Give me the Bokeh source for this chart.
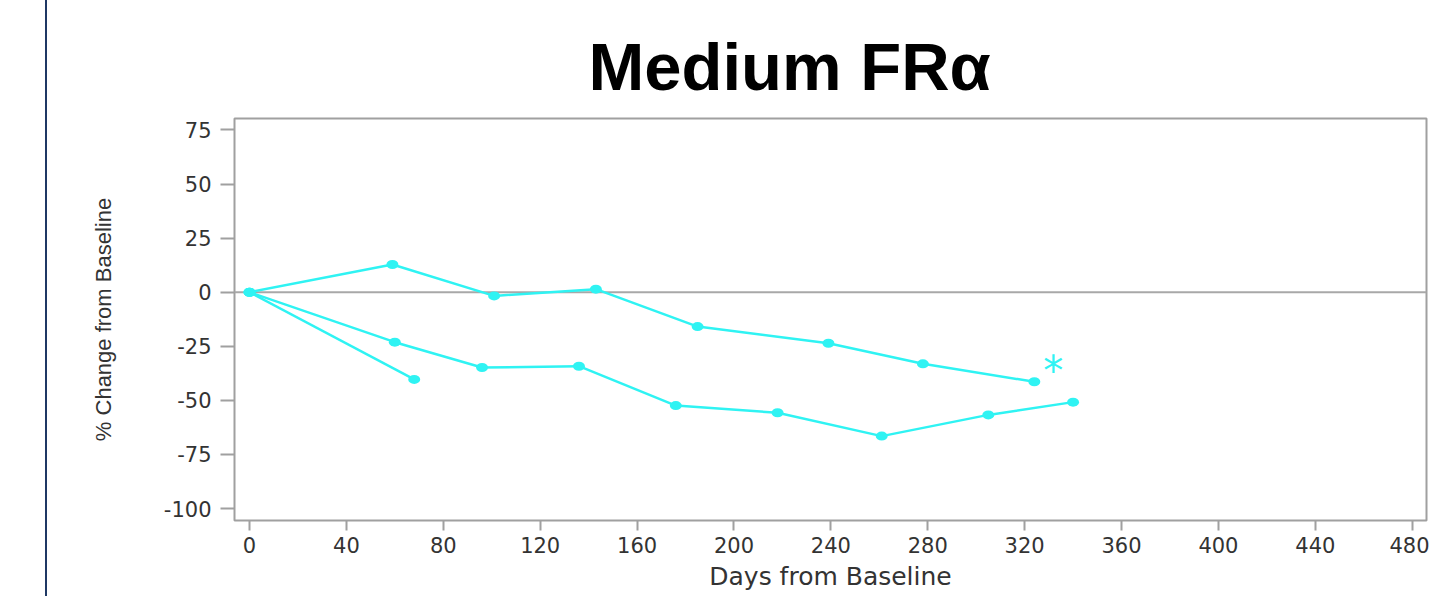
from bokeh.plotting import figure
from bokeh.layouts import row
from bokeh.models import Range1d, FixedTicker, Span, Div
from bokeh.embed import file_html
from bokeh.resources import INLINE
from bokeh.core.properties import value

# ---- data ----
days_1 = [0, 59, 101, 143, 185, 239, 278, 324]
pct_1 = [0, 12.8, -1.7, 1.4, -15.9, -23.6, -33.1, -41.4]

days_2 = [0, 60, 96, 136, 176, 218, 261, 305, 340]
pct_2 = [0, -23.1, -34.8, -34.2, -52.4, -55.7, -66.5, -56.7, -50.8]

days_3 = [0, 68]
pct_3 = [0, -40.3]

star_days = [331.8]
star_pct = [-32.2]

x_ticks = [0, 40, 80, 120, 160, 200, 240, 280, 320, 360, 400, 440, 480]
y_ticks = [75, 50, 25, 0, -25, -50, -75, -100]

title_text = "Medium FRα"
x_title = "Days from Baseline"
y_title = "% Change from Baseline"

CYAN = "#2FF3F3"
GRAY = "#a0a0a0"
TXT = "#333333"
NAVY = "#1f3864"

# ---- narrow left strip carrying the slide's border line ----
strip = Div(text="", width=47, height=596, margin=0,
            styles={"border-right": "2px solid " + NAVY,
                    "box-sizing": "border-box",
                    "width": "47px", "height": "596px"})

# ---- main chart ----
p = figure(width=1382, height=596, output_backend="svg", toolbar_location=None,
           x_range=Range1d(-6.19, 485.9), y_range=Range1d(-105.5, 80.27),
           min_border_left=187, min_border_right=3,
           min_border_top=118, min_border_bottom=76,
           title=title_text)
p.background_fill_color = "white"
p.border_fill_color = "white"
p.outline_line_color = GRAY
p.outline_line_width = 2
p.grid.visible = False

p.title.text_font = "Liberation Sans"
p.title.text_font_style = "bold"
p.title.text_font_size = "67px"
p.title.text_color = "black"
p.title.align = "left"
p.title.offset = 354
p.title.standoff = 29

for ax in (p.xaxis[0], p.yaxis[0]):
    ax.axis_line_color = None
    ax.major_tick_line_color = GRAY
    ax.major_tick_line_width = 2
    ax.major_tick_in = 0
    ax.minor_tick_line_color = None
    ax.major_label_text_font = "DejaVu Sans"
    ax.major_label_text_font_size = "21px"
    ax.major_label_text_color = TXT
    ax.axis_label_text_color = TXT
    ax.axis_label_text_font_style = "normal"

p.xaxis.ticker = FixedTicker(ticks=x_ticks)
p.xaxis.major_label_overrides = {t: str(t) for t in x_ticks}
p.xaxis.major_tick_out = 10
p.xaxis.major_label_standoff = 6
p.xaxis.axis_label = x_title
p.xaxis.axis_label_text_font = "DejaVu Sans"
p.xaxis.axis_label_text_font_size = "25px"
p.xaxis.axis_label_standoff = 6

p.yaxis.ticker = FixedTicker(ticks=y_ticks)
p.yaxis.major_label_overrides = {t: str(t) for t in y_ticks}
p.yaxis.major_tick_out = 14
p.yaxis.major_label_standoff = 9
p.yaxis.axis_label = y_title
p.yaxis.axis_label_text_font = "Liberation Sans"
p.yaxis.axis_label_text_font_size = "22px"
p.yaxis.axis_label_standoff = 45

p.add_layout(Span(location=0, dimension="width", line_color="#a8a8a8",
                  line_width=2, level="underlay"))

for xs, ys in ((days_1, pct_1), (days_2, pct_2), (days_3, pct_3)):
    p.line(xs, ys, line_color=CYAN, line_width=2.5)
    p.ellipse(x=xs, y=ys, width=12, height=9, width_units="screen",
              height_units="screen", fill_color=CYAN, line_color=None)

p.text(x=star_days, y=star_pct, text=["*"], text_font=value("DejaVu Sans"),
       text_font_size="40px", text_color=CYAN, text_align="center",
       text_baseline="middle", y_offset=9)

layout = row(strip, p, spacing=0)
open("out.html", "w").write(file_html(layout, INLINE))
